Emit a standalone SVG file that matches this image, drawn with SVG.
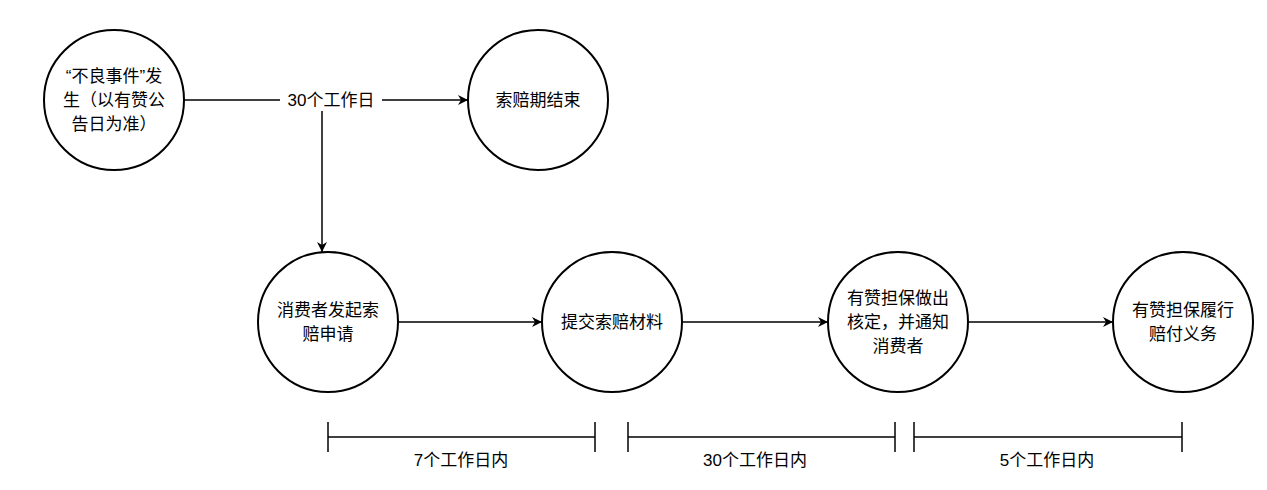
<svg xmlns="http://www.w3.org/2000/svg" width="1267" height="490" viewBox="0 0 1267 490">
<defs>
<marker id="ah" viewBox="0 0 10 10" refX="10" refY="5" markerWidth="10" markerHeight="10" markerUnits="userSpaceOnUse" orient="auto"><path d="M0,0 L10,5 L0,10 L3,5 Z" fill="#000"/></marker>
<style>
circle{fill:#fff;stroke:#000;stroke-width:2}
text{font-family:"Liberation Sans","Noto Sans CJK SC",sans-serif;font-size:17px;fill:#000;text-anchor:middle}
.c line{stroke:#000;stroke-width:1.5}
</style>
</defs>
<rect width="1267" height="490" fill="#fff"/>
<g class="c" id="connectors">
<line x1="184" y1="100" x2="468" y2="100" marker-end="url(#ah)"/>
<line x1="322" y1="100" x2="322" y2="252" marker-end="url(#ah)"/>
<line x1="398" y1="322" x2="542" y2="322" marker-end="url(#ah)"/>
<line x1="682" y1="322" x2="828" y2="322" marker-end="url(#ah)"/>
<line x1="968" y1="322" x2="1113" y2="322" marker-end="url(#ah)"/>
<rect x="280" y="89" width="102" height="22" fill="#fff"/>
<text x="331" y="106">30个工作日</text>
<line x1="328" y1="437" x2="595" y2="437"/><line x1="328" y1="422" x2="328" y2="452"/><line x1="595" y1="422" x2="595" y2="452"/>
<line x1="628" y1="437" x2="895" y2="437"/><line x1="628" y1="422" x2="628" y2="452"/><line x1="895" y1="422" x2="895" y2="452"/>
<line x1="914" y1="437" x2="1182" y2="437"/><line x1="914" y1="422" x2="914" y2="452"/><line x1="1182" y1="422" x2="1182" y2="452"/>
<text x="461" y="466">7个工作日内</text>
<text x="755" y="466">30个工作日内</text>
<text x="1047" y="466">5个工作日内</text>
</g>
<g id="n1"><circle cx="114" cy="100" r="70"/><text x="114" y="82">“不良事件”发</text><text x="114" y="106">生（以有赞公</text><text x="114" y="130">告日为准）</text></g>
<g id="n2"><circle cx="538" cy="100" r="70"/><text x="538" y="106">索赔期结束</text></g>
<g id="n3"><circle cx="328" cy="322" r="70"/><text x="328" y="316">消费者发起索</text><text x="328" y="340">赔申请</text></g>
<g id="n4"><circle cx="612" cy="322" r="70"/><text x="612" y="328">提交索赔材料</text></g>
<g id="n5"><circle cx="898" cy="322" r="70"/><text x="898" y="304">有赞担保做出</text><text x="898" y="328">核定，并通知</text><text x="898" y="352">消费者</text></g>
<g id="n6"><circle cx="1183" cy="322" r="70"/><text x="1183" y="316">有赞担保履行</text><text x="1183" y="340">赔付义务</text></g>
</svg>
